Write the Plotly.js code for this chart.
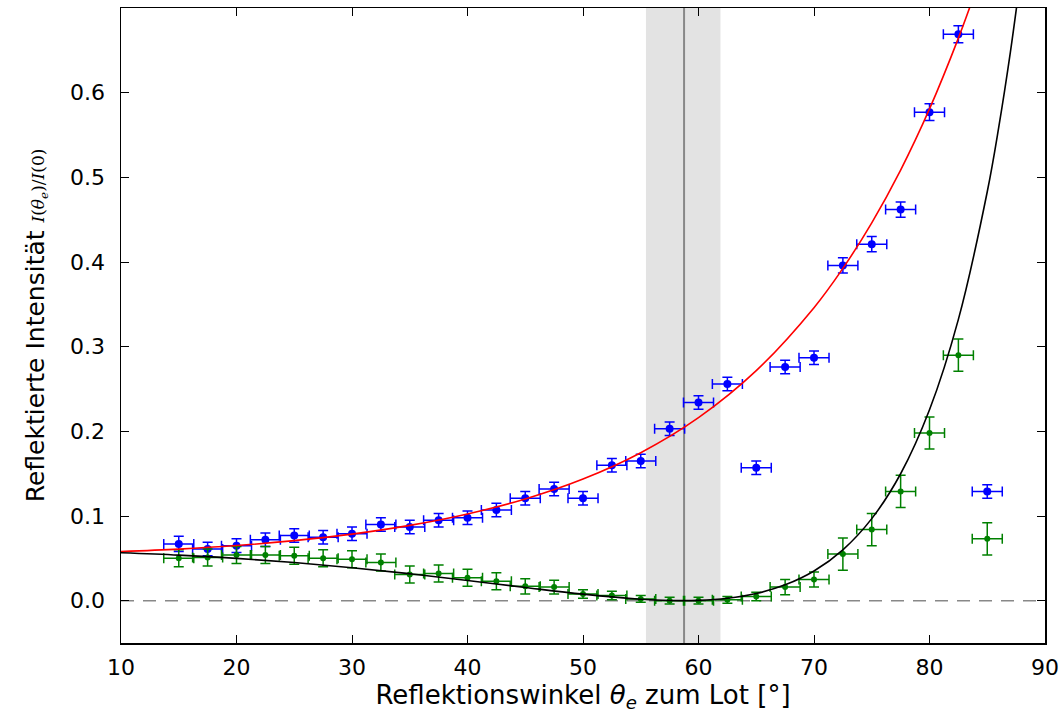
<!DOCTYPE html>
<html>
<head>
<meta charset="utf-8">
<script src="https://cdn.plot.ly/plotly-3.0.1.min.js"></script>
<style>html,body{margin:0;padding:0;background:#fff;}#chart{width:1061px;height:713px;}</style>
</head>
<body>
<div id="chart"></div>
<script>
// Measured data: reflection angle (deg)
const angles = [15, 17.5, 20, 22.5, 25, 27.5, 30, 32.5, 35, 37.5, 40, 42.5, 45, 47.5, 50,
                52.5, 55, 57.5, 60, 62.5, 65, 67.5, 70, 72.5, 75, 77.5, 80, 82.5, 85];
const angleErr = [1.3, 1.3, 1.3, 1.3, 1.3, 1.3, 1.3, 1.3, 1.3, 1.3, 1.3, 1.3, 1.3, 1.3, 1.3,
                  1.3, 1.3, 1.3, 1.3, 1.3, 1.3, 1.3, 1.3, 1.3, 1.3, 1.3, 1.3, 1.3, 1.3];
// blue series
const intensityS = [0.067, 0.061, 0.065, 0.072, 0.077, 0.075, 0.079, 0.090, 0.087, 0.095, 0.098, 0.107, 0.121, 0.132, 0.121,
                    0.160, 0.165, 0.203, 0.234, 0.256, 0.157, 0.276, 0.287, 0.396, 0.421, 0.462, 0.577, 0.669, 0.129];
const errS = [0.009, 0.008, 0.008, 0.008, 0.008, 0.008, 0.008, 0.008, 0.008, 0.008, 0.008, 0.008, 0.008, 0.008, 0.008,
              0.008, 0.008, 0.008, 0.008, 0.008, 0.008, 0.008, 0.008, 0.009, 0.009, 0.009, 0.010, 0.010, 0.008];
// green series
const intensityP = [0.050, 0.051, 0.054, 0.054, 0.053, 0.050, 0.049, 0.045, 0.031, 0.032, 0.027, 0.023, 0.017, 0.016, 0.008,
                    0.006, 0.002, 0.000, 0.000, 0.001, 0.005, 0.016, 0.025, 0.055, 0.084, 0.129, 0.198, 0.290, 0.073];
const errP = [0.010, 0.010, 0.010, 0.010, 0.010, 0.010, 0.010, 0.010, 0.010, 0.010, 0.010, 0.010, 0.009, 0.008, 0.005,
              0.005, 0.004, 0.004, 0.004, 0.004, 0.005, 0.009, 0.009, 0.019, 0.019, 0.019, 0.019, 0.019, 0.019];

// Fit curves
const fitAnglesS = [10, 15, 20, 25, 30, 35, 40, 45, 50, 55, 60, 65, 70, 72.5, 75, 77.5, 80, 82.5, 84];
const fitS = [0.0581, 0.0609, 0.0651, 0.0709, 0.0786, 0.0889, 0.1024, 0.1202, 0.1437, 0.1748, 0.2162, 0.2717, 0.3461,
              0.3925, 0.4463, 0.5086, 0.5808, 0.6644, 0.7206];
const fitAnglesP = [10, 15, 20, 25, 30, 35, 40, 45, 50, 55, 57.5, 60, 62.5, 65, 67.5, 70, 72.5, 75, 77.5, 80, 82.5, 85, 86, 87, 88];
const fitP = [0.0566, 0.0538, 0.0500, 0.0450, 0.0389, 0.0318, 0.0239, 0.0156, 0.0077, 0.0017, 0.0002, 0.0003, 0.0028,
              0.0085, 0.0187, 0.0351, 0.0601, 0.0969, 0.1499, 0.2254, 0.3322, 0.4830, 0.5596, 0.6476, 0.7488];

const brewsterAngle = 58.75;
const brewsterBand = [55.45, 61.9];
const xTicks = [10, 20, 30, 40, 50, 60, 70, 80, 90];
const yTicks = [0.0, 0.1, 0.2, 0.3, 0.4, 0.5, 0.6];

const FONT = 'DejaVu Sans, sans-serif';
const BLUE = '#0000ff', GREEN = '#008000';

function pts(y, err, color, size) {
  return {
    x: angles, y: y, type: 'scatter', mode: 'markers',
    marker: {color: color, size: size, line: {width: 0}},
    error_y: {type: 'data', array: err, color: color, thickness: 1.5, width: 5},
    error_x: {type: 'data', array: angleErr, color: color, thickness: 1.5, width: 5},
    hoverinfo: 'x+y', showlegend: false, cliponaxis: true
  };
}

const traces = [
  pts(intensityS, errS, BLUE, 8),
  pts(intensityP, errP, GREEN, 6),
  {x: fitAnglesS, y: fitS, type: 'scatter', mode: 'lines',
   line: {color: '#ff0000', width: 1.6, shape: 'spline', smoothing: 1}, showlegend: false},
  {x: fitAnglesP, y: fitP, type: 'scatter', mode: 'lines',
   line: {color: '#000000', width: 1.6, shape: 'spline', smoothing: 1}, showlegend: false}
];

const axisCommon = {
  showline: true, linecolor: '#000', linewidth: 1.5, mirror: 'ticks',
  ticks: 'inside', ticklen: 8, tickwidth: 1, tickcolor: '#000',
  showgrid: false, zeroline: false,
  tickfont: {family: FONT, size: 22, color: '#000'}
};

const layout = {
  width: 1061, height: 713,
  margin: {l: 121, r: 16, t: 8, b: 70},
  paper_bgcolor: '#fff', plot_bgcolor: '#fff',
  font: {family: FONT, color: '#000'},
  xaxis: Object.assign({}, axisCommon, {
    range: [10, 90], tickvals: xTicks, ticktext: xTicks.map(String),
    ticklabelstandoff: 4,
    title: {text: 'Reflektionswinkel <i>θ<sub>e</sub></i> zum Lot [°]', font: {family: FONT, size: 26}, standoff: 3}
  }),
  yaxis: Object.assign({}, axisCommon, {
    range: [-0.05, 0.7], tickvals: yTicks, ticktext: yTicks.map(v => v.toFixed(1)),
    ticklabelstandoff: 10,
    title: {text: 'Reflektierte Intensität <span style="font-family:DejaVu Serif;font-size:17px"><i>I</i>(<i>θ<sub>e</sub></i>)/<i>I</i>(0)</span>',
            font: {family: FONT, size: 25}, standoff: 18}
  }),
  shapes: [
    {type: 'rect', xref: 'x', yref: 'paper', x0: brewsterBand[0], x1: brewsterBand[1], y0: 0, y1: 1,
     fillcolor: '#e3e3e3', line: {width: 0}, layer: 'below'},
    {type: 'line', xref: 'x', yref: 'paper', x0: brewsterAngle, x1: brewsterAngle, y0: 0, y1: 1,
     line: {color: '#888888', width: 2}, layer: 'below'},
    {type: 'line', xref: 'paper', yref: 'y', x0: 0, x1: 1, y0: 0, y1: 0,
     line: {color: '#888888', width: 1.5, dash: '13px,9px'}, layer: 'below'}
  ]
};

Plotly.newPlot('chart', traces, layout, {staticPlot: true, displayModeBar: false});
</script>
</body>
</html>
